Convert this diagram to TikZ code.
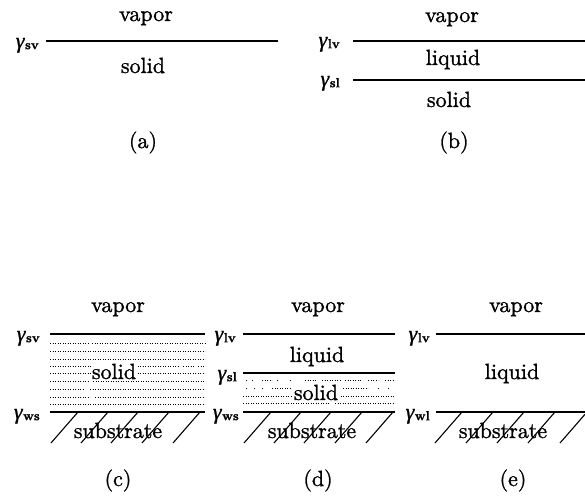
\documentclass[tikz,border=0pt]{standalone}
\usepackage[no-math]{fontspec}
\newfontfamily\semib{lmroman10-regular.otf}[RawFeature={embolden=1.2}]
\newfontfamily\gfont{Liberation Serif}[RawFeature={embolden=1.0}]
\newfontfamily\subf{lmroman10-bold.otf}[RawFeature={embolden=1.0}]
\newcommand{\gsub}[1]{{\gfont\itshape\fontsize{22}{24}\selectfont γ}\kern0.5pt\raisebox{-1.2pt}{\subf\fontsize{13}{14}\selectfont #1}}
\begin{document}
\begin{tikzpicture}[x=1pt,y=-1pt,
  txt/.style={font=\semib\fontsize{22}{26}\selectfont, inner sep=0pt, anchor=base},
  gam/.style={inner sep=0pt, anchor=base east},
  iface/.style={line width=1.4pt},
  wall/.style={line width=1.9pt},
  hatchln/.style={line width=1.1pt},
  dotrow/.style={line width=0.9pt, dash pattern=on 0.9pt off 1.6pt}]
\useasboundingbox (0,0) rectangle (585,497);

% ---------- (a) ----------
\node[txt] (avap) at (146,21) {vapor};
\node[txt] (asol) at (143,73) {solid};
\node[txt] (acap) at (143,148) {(a)};
\node[gam] (asv) at (39,48) {\gsub{sv}};
\coordinate (a1) at (46,41); \coordinate (a2) at (278,41);
\draw[iface] (a1) -- (a2);

% ---------- (b) ----------
\node[txt] (bvap) at (452,22) {vapor};
\node[txt] (bliq) at (453,65) {liquid};
\node[txt] (bsol) at (449,107) {solid};
\node[txt] (bcap) at (454,148) {(b)};
\node[gam] (blv) at (340,47) {\gsub{lv}};
\node[gam] (bsl) at (340,86) {\gsub{sl}};
\coordinate (b1) at (353,41); \coordinate (b2) at (585,41);
\coordinate (b3) at (353,80); \coordinate (b4) at (585,80);
\draw[iface] (b1) -- (b2);
\draw[iface] (b3) -- (b4);

% ---------- (c) ----------
\foreach \y/\segs in {343/{50/86,88/90,92/205},351/{50/205},359/{50/205},
  366/{50/180,183/195,198/205},373/{50/205},381/{50/88,93/205},
  389/{50/83,90/205},397/{50/90,95/205},404/{50/205}}{
  \foreach \xa/\xb in \segs {\draw[dotrow] (\xa,\y) -- (\xb,\y);}
}
\node[txt, fill=white, inner sep=0.6pt] (csol) at (114,379) {solid};
\node[txt] (cvap) at (118,312) {vapor};
\node[txt] (csub) at (118,438) {substrate};
\node[txt] (ccap) at (118,486) {(c)};
\node[gam] (csv) at (40,341) {\gsub{sv}};
\node[gam] (cws) at (40,419) {\gsub{ws}};
\coordinate (c1) at (50,334); \coordinate (c2) at (205,334);
\coordinate (c3) at (50,412); \coordinate (c4) at (205,412);
\draw[iface] (c1) -- (c2);
\draw[wall] (c3) -- (c4);
\foreach \xb in {51,81,111,142,173}{
  \draw[hatchln] (\xb,443) -- ++(27,-31);
}

% ---------- (d) ----------
\foreach \y/\segs in {380/{246/247,252/253,262/272,277/278,290/291,305/316,322/340,345/362,368/378,385/395},
  388/{246/248,254/256,262/264,272/290,343/368,378/380,388/390},
  396/{243/395},403/{243/330,335/395}}{
  \foreach \xa/\xb in \segs {\draw[dotrow] (\xa,\y) -- (\xb,\y);}
}
\node[txt, fill=white, inner sep=0.6pt] (dsol) at (316,400) {solid};
\node[txt] (dvap) at (318,312) {vapor};
\node[txt] (dliq) at (317,362) {liquid};
\node[txt] (dsub) at (312,438) {substrate};
\node[txt] (dcap) at (318,486) {(d)};
\node[gam] (dlv) at (236,341) {\gsub{lv}};
\node[gam] (dsl) at (237,380) {\gsub{sl}};
\node[gam] (dws) at (239,419) {\gsub{ws}};
\coordinate (d1) at (243,334); \coordinate (d2) at (395,334);
\coordinate (d3) at (243,373); \coordinate (d4) at (395,373);
\coordinate (d5) at (243,412); \coordinate (d6) at (395,412);
\draw[iface] (d1) -- (d2);
\draw[iface] (d3) -- (d4);
\draw[wall] (d5) -- (d6);
\foreach \xb in {244,274,304,335,366}{
  \draw[hatchln] (\xb,443) -- ++(27,-31);
}

% ---------- (e) ----------
\node[txt] (evap) at (516,312) {vapor};
\node[txt] (eliq) at (512,379) {liquid};
\node[txt] (esub) at (503,438) {substrate};
\node[txt] (ecap) at (513,486) {(e)};
\node[gam] (elv) at (430,341) {\gsub{lv}};
\node[gam] (ewl) at (430,419) {\gsub{wl}};
\coordinate (e1) at (436,334); \coordinate (e2) at (585,334);
\coordinate (e3) at (436,412); \coordinate (e4) at (585,412);
\draw[iface] (e1) -- (e2);
\draw[wall] (e3) -- (e4);
\foreach \xb in {435,466,497,528}{
  \draw[hatchln] (\xb,443) -- ++(27,-31);
}
\draw[hatchln] (560,443) -- (585,414.3);
\end{tikzpicture}
\end{document}
